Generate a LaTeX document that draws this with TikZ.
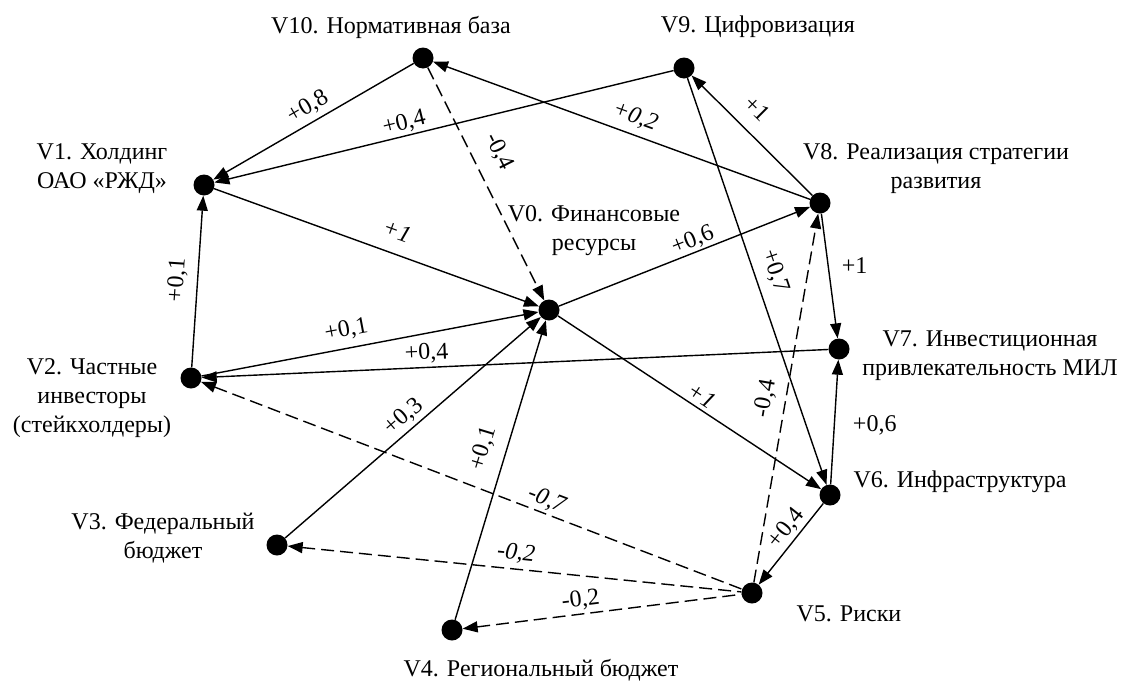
\documentclass[tikz,border=0pt]{standalone}
\usepackage{fontspec}
\setmainfont{Liberation Serif}
\usetikzlibrary{arrows.meta}
\begin{document}
\begin{tikzpicture}[x=1pt,y=-1pt,
  dot/.style={circle,fill=black,inner sep=0pt,minimum size=21pt},
  txt/.style={align=center,font=\fontsize{24}{29}\selectfont,inner sep=0pt},
  con/.style={line width=1.4pt,-{Triangle[length=15pt,width=11pt]}},
  rcon/.style={line width=1.4pt,{Triangle[length=15pt,width=11pt]}-},
  dsh/.style={dash pattern=on 13pt off 6pt},
  lab/.style={font=\fontsize{24}{29}\selectfont,sloped,inner sep=1pt},
  hlab/.style={font=\fontsize{24}{29}\selectfont,inner sep=1pt},
]
\useasboundingbox (0,0) rectangle (1128,683);
% dots
\node[dot] (V0) at (549,310) {};
\node[dot] (V1) at (204,185) {};
\node[dot] (V2) at (191,378) {};
\node[dot] (V3) at (277,545) {};
\node[dot] (V4) at (452,630) {};
\node[dot] (V5) at (752,593) {};
\node[dot] (V6) at (830,495) {};
\node[dot] (V7) at (839,349) {};
\node[dot] (V8) at (820,203) {};
\node[dot] (V9) at (684,68) {};
\node[dot] (V10) at (423,58) {};
% texts
\node[txt] (V10t) at (391,27) {V10. Нормативная база};
\node[txt] (V9t) at (758,27) {V9. Цифровизация};
\node[txt] (V8t) at (936,169) {V8. Реализация стратегии\\развития};
\node[txt] (V7t) at (990,356) {V7. Инвестиционная\\привлекательность МИЛ};
\node[txt] (V6t) at (960,482) {V6. Инфраструктура};
\node[txt] (V5t) at (849,614) {V5. Риски};
\node[txt] (V4t) at (541,670) {V4. Региональный бюджет};
\node[txt] (V3t) at (163,538) {V3. Федеральный\\бюджет};
\node[txt] (V2t) at (92,398) {V2. Частные\\инвесторы\\(стейкхолдеры)};
\node[txt] (V1t) at (102,169) {V1. Холдинг\\ОАО «РЖД»};
\node[txt] (V0t) at (594,231) {V0. Финансовые\\ресурсы};
% connectors
\draw[rcon] (V1) -- node[lab,pos=.51,above=3.8pt]{+0,8} (V10);
\draw[rcon] (V1) -- node[lab,pos=.42,above=1.1pt]{+0,4} (V9);
\draw[rcon] (V10) -- node[lab,pos=.52,above=6pt]{\itshape +0,2} (V8);
\draw[con,dsh] (V10) -- node[lab,pos=.41,above=14.8pt]{-0,4} (V0);
\draw[rcon] (V9) -- node[lab,pos=.41,above=13pt]{+1} (V8);
\draw[con] (V1) -- node[lab,pos=.54,above=12.6pt]{\itshape +1} (V0);
\draw[con] (V2) -- node[lab,pos=.44,above=6.4pt]{+0,1} (V0);
\draw[rcon] (V2) -- node[lab,pos=.36,above=2.6pt]{+0,4} (V7);
\draw[con] (V3) -- node[lab,pos=.5,above=2.5pt]{+0,3} (V0);
\draw[con] (V4) -- node[lab,pos=.55,above=11pt]{+0,1} (V0);
\draw[con] (V0) -- node[lab,pos=.55,above=0.2pt]{+0,6} (V8);
\draw[con] (V0) -- node[lab,pos=.52,above=3pt]{\itshape +1} (V6);
\draw[con] (V2) -- node[lab,pos=.5,above=8.6pt]{+0,1} (V1);
\draw[rcon,dsh] (V2) -- node[lab,pos=.63,above=1.8pt]{\itshape -0,7} (V5);
\draw[rcon,dsh] (V3) -- node[lab,pos=.5,above=4pt]{\itshape -0,2} (V5);
\draw[rcon,dsh] (V4) -- node[lab,pos=.43,above=2.4pt]{-0,2} (V5);
\draw[con,dsh] (V5) -- node[lab,pos=.49,above=8.3pt]{-0,4} (V8);
\draw[con] (V9) -- node[lab,pos=.49,above=8.8pt]{+0,7} (V6);
\draw[con] (V8) -- node[hlab,pos=.42,right=12pt]{+1} (V7);
\draw[con] (V6) -- node[hlab,pos=.47,right=17pt]{+0,6} (V7);
\draw[rcon] (V5) -- node[lab,pos=.59,above=1.7pt]{+0,4} (V6);
\end{tikzpicture}
\end{document}
